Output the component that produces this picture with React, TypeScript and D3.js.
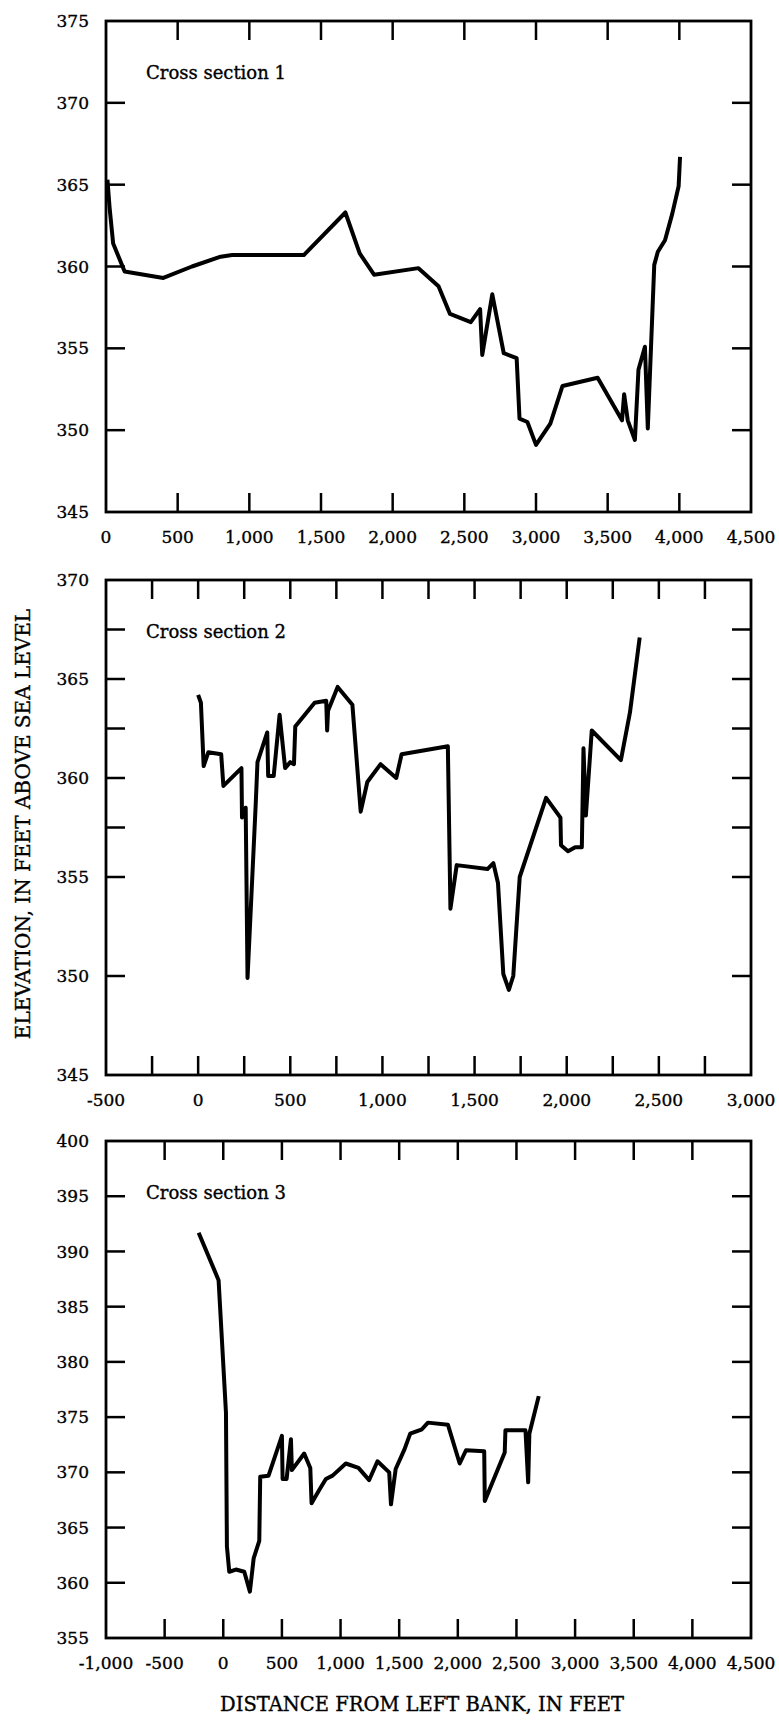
import React, { useRef, useEffect } from "react";
import * as d3 from "d3";

// Cross section 1
const section1Distance = [10, 25, 50, 130, 400, 600, 800, 880, 1380, 1670, 1770, 1870, 2180, 2320, 2400, 2545, 2610, 2625, 2695, 2775, 2865, 2885, 2940, 3000, 3100, 3185, 3430, 3600, 3615, 3640, 3690, 3715, 3760, 3780, 3825, 3850, 3900, 3950, 3995, 4005];
const section1Elevation = [365.3, 363.6, 361.4, 359.7, 359.3, 360.0, 360.6, 360.7, 360.7, 363.3, 360.8, 359.5, 359.9, 358.8, 357.1, 356.6, 357.4, 354.6, 358.3, 354.7, 354.4, 350.7, 350.5, 349.1, 350.4, 352.7, 353.2, 350.6, 352.2, 350.6, 349.4, 353.7, 355.1, 350.1, 360.1, 360.9, 361.6, 363.2, 364.9, 366.7];
const section1XTicks = [500, 1000, 1500, 2000, 2500, 3000, 3500, 4000];
const section1XLabels = [0, 500, 1000, 1500, 2000, 2500, 3000, 3500, 4000, 4500];
const section1YTicks = [350, 355, 360, 365, 370];
const section1YLabels = [345, 350, 355, 360, 365, 370, 375];

// Cross section 2
const section2Distance = [0, 15, 30, 55, 125, 137, 235, 238, 258, 268, 312, 322, 375, 380, 410, 442, 472, 500, 520, 527, 632, 695, 700, 705, 757, 837, 882, 918, 990, 1075, 1104, 1355, 1369, 1403, 1570, 1602, 1627, 1656, 1686, 1710, 1745, 1888, 1966, 1969, 2007, 2046, 2082, 2091, 2104, 2136, 2294, 2343, 2396];
const section2Elevation = [364.2, 363.8, 360.6, 361.3, 361.2, 359.6, 360.5, 358.0, 358.5, 349.9, 358.6, 360.8, 362.3, 360.1, 360.1, 363.2, 360.5, 360.8, 360.7, 362.6, 363.8, 363.9, 362.4, 363.4, 364.6, 363.7, 358.3, 359.8, 360.7, 360.0, 361.2, 361.6, 353.4, 355.6, 355.4, 355.7, 354.7, 350.1, 349.3, 350.0, 355.0, 359.0, 358.0, 356.6, 356.3, 356.5, 356.5, 361.5, 358.1, 362.4, 360.9, 363.3, 367.1];
const section2XTicks = [-250, 0, 250, 500, 750, 1000, 1250, 1500, 1750, 2000, 2250, 2500, 2750];
const section2XLabels = [-500, 0, 500, 1000, 1500, 2000, 2500, 3000];
const section2YTicks = [350, 355, 357.5, 360, 362.5, 365, 367.5];
const section2YLabels = [345, 350, 355, 360, 365, 370];

// Cross section 3
const section3Distance = [-210, -40, -20, 23, 31, 51, 108, 179, 227, 259, 307, 315, 386, 500, 506, 540, 577, 585, 690, 742, 753, 818, 875, 932, 1045, 1153, 1244, 1315, 1415, 1430, 1470, 1546, 1594, 1694, 1745, 1916, 2016, 2070, 2225, 2230, 2400, 2406, 2577, 2600, 2610, 2690];
const section3Elevation = [391.7, 387.4, 383.6, 375.4, 363.3, 361.0, 361.2, 361.0, 359.2, 362.2, 363.8, 369.6, 369.7, 373.3, 369.4, 369.4, 373.0, 370.2, 371.7, 370.4, 367.2, 368.4, 369.4, 369.7, 370.8, 370.4, 369.3, 371.0, 370.0, 367.1, 370.3, 372.1, 373.5, 373.9, 374.5, 374.3, 370.8, 372.0, 371.9, 367.4, 371.8, 373.8, 373.8, 369.1, 373.5, 376.9];
const section3XTicks = [-500, 0, 500, 1000, 1500, 2000, 2500, 3000, 3500, 4000];
const section3XLabels = [-1000, -500, 0, 500, 1000, 1500, 2000, 2500, 3000, 3500, 4000, 4500];
const section3YTicks = [360, 365, 370, 375, 380, 385, 390, 395];
const section3YLabels = [355, 360, 365, 370, 375, 380, 385, 390, 395, 400];

const panels = [
  { title: "Cross section 1", dist: section1Distance, elev: section1Elevation, xDomain: [0, 4500], yDomain: [345, 375], xTicks: section1XTicks, xLabels: section1XLabels, yTicks: section1YTicks, yLabels: section1YLabels, top: 21, bottom: 512 },
  { title: "Cross section 2", dist: section2Distance, elev: section2Elevation, xDomain: [-500, 3000], yDomain: [345, 370], xTicks: section2XTicks, xLabels: section2XLabels, yTicks: section2YTicks, yLabels: section2YLabels, top: 580, bottom: 1075 },
  { title: "Cross section 3", dist: section3Distance, elev: section3Elevation, xDomain: [-1000, 4500], yDomain: [355, 400], xTicks: section3XTicks, xLabels: section3XLabels, yTicks: section3YTicks, yLabels: section3YLabels, top: 1141, bottom: 1638 },
];

const fmt = d3.formatLocale({ decimal: ".", thousands: ",", grouping: [3], currency: ["$", ""], minus: "-" }).format(",");

const App = () => {
  const ref = useRef<SVGSVGElement>(null);

  useEffect(() => {
    const svg = d3.select(ref.current);
    svg.selectAll("*").remove();

    const width = 779;
    const height = 1720;
    const left = 106;
    const right = 751;
    const tickLen = 19;
    const font = "'DejaVu Serif', serif";

    svg.attr("width", width).attr("height", height).style("background", "#fff");

    // text helper, slightly heavier than Book weight like the original print
    const label = (sel, size) =>
      sel.style("font-family", font).style("font-size", size)
        .attr("fill", "#000").attr("stroke", "#000").attr("stroke-width", 0.35);

    panels.forEach((p) => {
      const x = d3.scaleLinear().domain(p.xDomain).range([left, right]);
      const y = d3.scaleLinear().domain(p.yDomain).range([p.bottom, p.top]);
      const g = svg.append("g");

      // ticks, inward on all four sides
      p.xTicks.forEach((t) => {
        g.append("line").attr("x1", x(t)).attr("x2", x(t)).attr("y1", p.top).attr("y2", p.top + tickLen)
          .attr("stroke", "#000").attr("stroke-width", 2.5);
        g.append("line").attr("x1", x(t)).attr("x2", x(t)).attr("y1", p.bottom).attr("y2", p.bottom - tickLen)
          .attr("stroke", "#000").attr("stroke-width", 2.5);
      });
      p.yTicks.forEach((t) => {
        g.append("line").attr("x1", left).attr("x2", left + tickLen).attr("y1", y(t)).attr("y2", y(t))
          .attr("stroke", "#000").attr("stroke-width", 2.5);
        g.append("line").attr("x1", right).attr("x2", right - tickLen).attr("y1", y(t)).attr("y2", y(t))
          .attr("stroke", "#000").attr("stroke-width", 2.5);
      });

      g.append("rect")
        .attr("x", left).attr("y", p.top)
        .attr("width", right - left).attr("height", p.bottom - p.top)
        .attr("fill", "none").attr("stroke", "#000").attr("stroke-width", 2.8);

      g.selectAll(".ylab").data(p.yLabels).enter().append("text")
        .attr("x", left - 17).attr("y", (d) => y(d))
        .attr("dy", "0.36em").attr("text-anchor", "end")
        .call(label, "17px")
        .text((d) => fmt(d));

      g.selectAll(".xlab").data(p.xLabels).enter().append("text")
        .attr("x", (d) => x(d)).attr("y", p.bottom + 25)
        .attr("dy", "0.36em").attr("text-anchor", "middle")
        .call(label, "17px")
        .text((d) => fmt(d));

      g.append("text")
        .attr("x", left + 40).attr("y", p.top + 58)
        .call(label, "18px")
        .text(p.title);

      const line = d3.line<number>()
        .x((d, i) => x(p.dist[i]))
        .y((d) => y(d));

      g.append("path")
        .datum(p.elev)
        .attr("fill", "none")
        .attr("stroke", "#000")
        .attr("stroke-width", 4)
        .attr("stroke-linejoin", "round")
        .attr("d", line);
    });

    svg.append("text")
      .attr("transform", "translate(30,824) rotate(-90)")
      .attr("text-anchor", "middle")
      .call(label, "20px")
      .text("ELEVATION, IN FEET ABOVE SEA LEVEL");

    svg.append("text")
      .attr("x", 422).attr("y", 1711)
      .attr("text-anchor", "middle")
      .call(label, "19.5px")
      .text("DISTANCE FROM LEFT BANK, IN FEET");
  }, []);

  return (
    <div style={{ position: "absolute", left: 0, top: 0 }}>
      <svg ref={ref}></svg>
    </div>
  );
};

export default App;
